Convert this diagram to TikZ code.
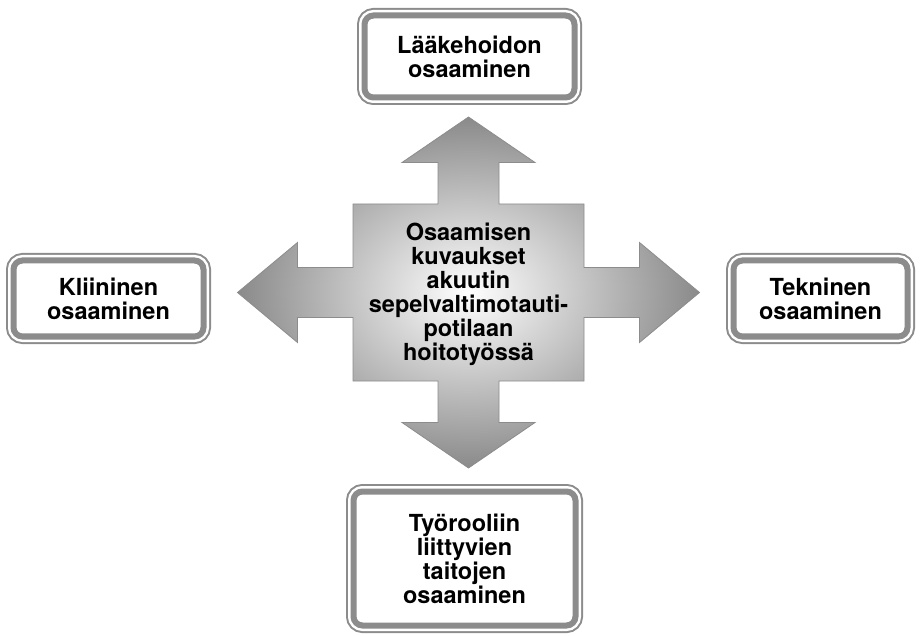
\documentclass[tikz,border=0pt]{standalone}
\usepackage{fontspec}
\setmainfont{TeX Gyre Heros}
\usepackage{tikz}
\usetikzlibrary{calc}

\definecolor{linegray}{RGB}{140,140,140}
\definecolor{shadegray}{RGB}{138,138,138}

\begin{document}
\begin{tikzpicture}[x=1pt, y=-1pt,
    txt/.style={font=\bfseries\fontsize{23.5}{24}\selectfont, align=center, inner sep=0pt},
    box/.style={txt, rectangle, rounded corners=9pt, fill=white, draw=linegray, line width=6pt,
        preaction={draw=linegray, line width=15pt},
        preaction={draw=white, line width=11pt}}]
        \useasboundingbox (0,0) rectangle (921,636);

        % Centre of the arrow cross
        \coordinate (mid) at (468.5,292.5);

        % Draw the shaded cross of four arrows
        \begin{scope}[shift={(mid)}]
            \shadedraw[inner color=white, outer color=shadegray, draw=linegray, line width=0.8pt]
                (0,-175.5) -- (66.5,-130) -- (30.5,-130) -- (30.5,-88.5) -- (115.5,-88.5)
                -- (115.5,-25) -- (171,-25) -- (171,-50) -- (231,0) -- (171,50) -- (171,25)
                -- (115.5,25) -- (115.5,88.5) -- (30.5,88.5) -- (30.5,130) -- (66.5,130)
                -- (0,175.5) -- (-66.5,130) -- (-30.5,130) -- (-30.5,88.5) -- (-115.5,88.5)
                -- (-115.5,25) -- (-171,25) -- (-171,50) -- (-231,0) -- (-171,-50) -- (-171,-25)
                -- (-115.5,-25) -- (-115.5,-88.5) -- (-30.5,-88.5) -- (-30.5,-130) -- (-66.5,-130)
                -- cycle;
        \end{scope}

        % Text in the middle
        \node[txt] (core) at ($(mid)+(0,2)$) {Osaamisen\\kuvaukset\\akuutin\\sepelvaltimotauti-\\potilaan\\hoitotyössä};

        % The four boxes
        \node[box, minimum width=210, minimum height=82] (laake) at (469.5,56.5) {Lääkehoidon\\osaaminen};
        \node[box, minimum width=190, minimum height=76] (kliin) at (108.5,298.5) {Kliininen\\osaaminen};
        \node[box, minimum width=174, minimum height=76] (tekn) at (820.5,298.5) {Tekninen\\osaaminen};
        \node[box, minimum width=222, minimum height=134] (tyo) at (464.5,558.5) {Työrooliin\\liittyvien\\taitojen\\osaaminen};
\end{tikzpicture}
\end{document}
